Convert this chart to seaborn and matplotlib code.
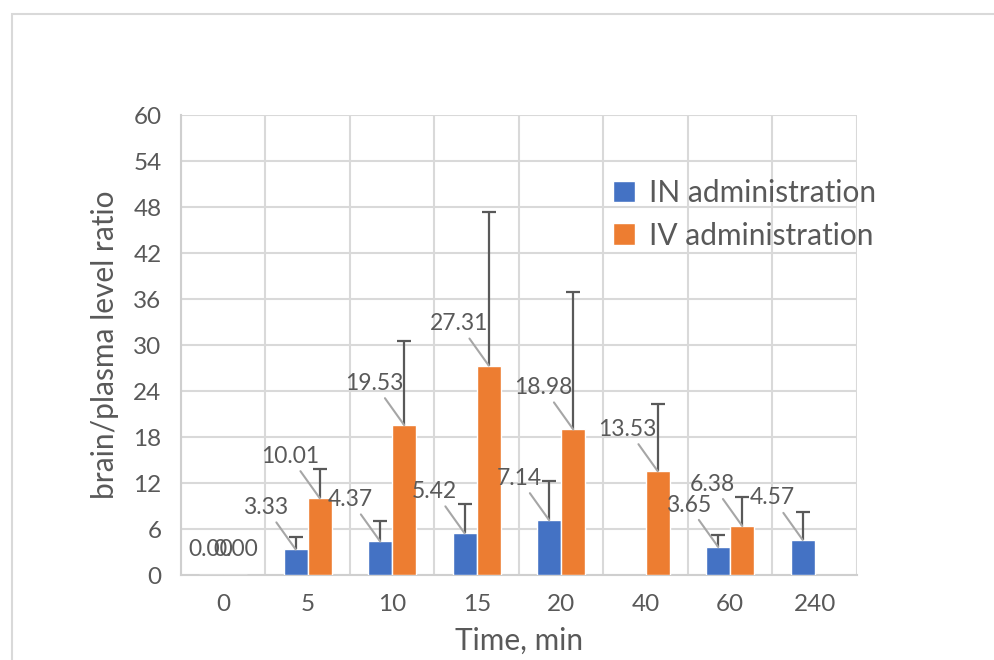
import numpy as np
import pandas as pd
import seaborn as sns
import matplotlib.pyplot as plt
from matplotlib.patches import Rectangle
from matplotlib.ticker import MultipleLocator, FixedLocator


times = ['0', '5', '10', '15', '20', '40', '60', '240']
in_ratio = [0.00, 3.33, 4.37, 5.42, 7.14, np.nan, 3.65, 4.57]
iv_ratio = [0.00, 10.01, 19.53, 27.31, 18.98, 13.53, 6.38, np.nan]
in_err = [0.0, 1.6, 2.7, 3.8, 5.1, np.nan, 1.6, 3.7]
iv_err = [0.0, 3.8, 11.0, 20.0, 17.9, 8.8, 3.8, np.nan]
groups = ['IN administration', 'IV administration']

TEXT = '#595959'
GRID = '#D9D9D9'

df = pd.DataFrame({
    'time': times * 2,
    'group': [groups[0]] * len(times) + [groups[1]] * len(times),
    'ratio': in_ratio + iv_ratio,
    'err': in_err + iv_err,
})

sns.set_style('white')
plt.rcParams['font.family'] = ['Lato', 'DejaVu Sans']

fig = plt.figure(figsize=(9.95, 6.6), dpi=100)
ax = fig.add_axes([181 / 995, 1 - 575 / 660, (857 - 181) / 995, (575 - 115) / 660])

sns.barplot(data=df, x='time', y='ratio', hue='group', order=times, hue_order=groups,
            palette=['#4472C4', '#ED7D31'], width=0.57, gap=0, errorbar=None,
            saturation=1, ax=ax, zorder=3)

# outer chart frame
fig.add_artist(Rectangle((12 / 995, -0.1), 1.2, (660 - 14) / 660 + 0.1,
                         transform=fig.transFigure, fill=False, edgecolor=GRID, lw=1.5))

# error bars (plus direction only) and data labels
bar_containers = list(ax.containers)
for gi, cont in enumerate(bar_containers):
    sub = df[df['group'] == groups[gi]].reset_index(drop=True)
    for bar in cont:
        xc = bar.get_x() + bar.get_width() / 2
        h = bar.get_height()
        if np.isnan(h):
            continue
        idx = int(round(xc))
        e = sub.loc[idx, 'err']
        if e > 0:
            _, caps, _ = ax.errorbar(xc, h, yerr=[[0], [e]], fmt='none', ecolor=TEXT,
                                     elinewidth=1.6, capsize=5, capthick=1.6, zorder=4)
            caps[0].set_visible(False)
        if h == 0:
            ax.annotate(f'{h:.2f}', xy=(xc, h), xytext=(0, 26), textcoords='offset pixels',
                        ha='center', va='center', fontsize=16.5, color=TEXT, zorder=5)
        else:
            ax.annotate(f'{h:.2f}', xy=(xc, h), xytext=(-30, 42), textcoords='offset pixels',
                        ha='center', va='center', fontsize=16.5, color=TEXT, zorder=5,
                        arrowprops=dict(arrowstyle='-', color='#A6A6A6', lw=1.5,
                                        shrinkA=1, shrinkB=0))

ax.set_ylim(0, 60)
ax.set_xlim(-0.5, len(times) - 0.5)
ax.yaxis.set_major_locator(MultipleLocator(6))
ax.xaxis.set_minor_locator(FixedLocator(np.arange(-0.5, len(times), 1)))
ax.grid(axis='y', which='major', color=GRID, lw=1.5, zorder=0)
ax.grid(axis='x', which='minor', color=GRID, lw=1.5, zorder=0)
ax.set_axisbelow(True)
for s in ['top', 'right']:
    ax.spines[s].set_visible(False)
for s in ['left', 'bottom']:
    ax.spines[s].set_color('#CFCFCF')
    ax.spines[s].set_linewidth(1.5)
ax.tick_params(axis='both', which='both', length=0, labelsize=17.5, labelcolor=TEXT)
ax.tick_params(axis='y', pad=14)
ax.tick_params(axis='x', pad=14)

ax.set_xlabel('Time, min', fontsize=21.5, color=TEXT, labelpad=8)
ax.set_ylabel('brain/plasma level ratio', fontsize=21.5, color=TEXT, labelpad=10)

ax.legend(loc='upper left', bbox_to_anchor=(586 / 995, 1 - 152 / 660),
          bbox_transform=fig.transFigure, frameon=False, fontsize=21.5,
          handlelength=0.75, handleheight=0.75, handletextpad=0.45, labelspacing=0.5,
          labelcolor=TEXT)

fig.savefig('out.png', dpi=100)
